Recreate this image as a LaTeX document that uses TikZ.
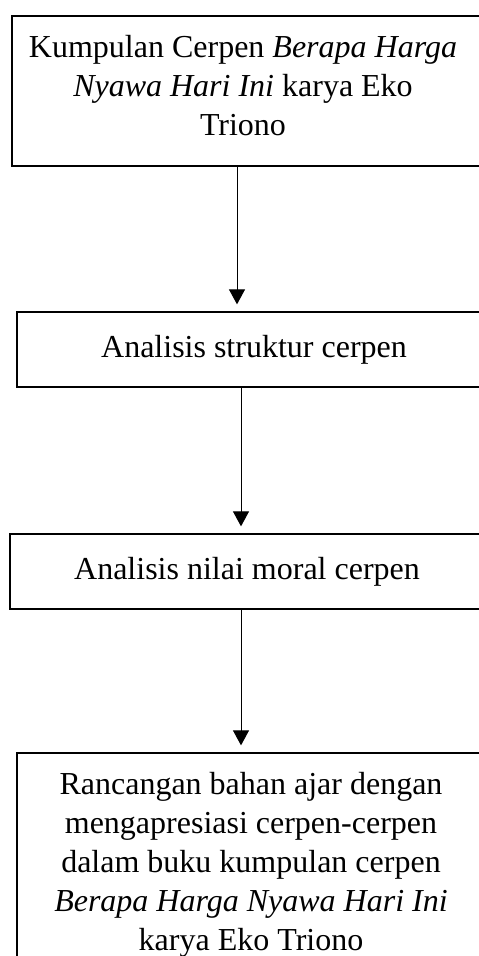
\documentclass[tikz,border=0pt]{standalone}
\usepackage{fontspec}
\setmainfont{Liberation Serif}
\usetikzlibrary{arrows.meta}
\tikzstyle{stepbox} = [rectangle, draw, line width=1.3pt, fill=white, inner sep=0pt]
\tikzstyle{steptext} = [align=center, inner sep=0pt, font=\fontsize{32}{39}\selectfont]

\begin{document}
\begin{tikzpicture}[->,>={Triangle[width=16pt,length=15pt]},shorten >=7pt,line width=1pt,x=1pt,y=-1pt]
  \useasboundingbox (0,0) rectangle (479,956);
  \clip (0,0) rectangle (479,956);
  \node[stepbox, minimum width=528pt, minimum height=150pt,
    label={[steptext, xshift=-33pt]center:{Kumpulan Cerpen \textit{Berapa Harga}\\ \textit{Nyawa Hari Ini} karya Eko\\ Triono\strut}}] (kumpulan) at (276,91) {};
  \node[stepbox, minimum width=523pt, minimum height=75pt,
    label={[steptext, xshift=-24.5pt]center:{Analisis struktur cerpen}}] (struktur) at (278.5,349.5) {};
  \node[stepbox, minimum width=530pt, minimum height=75pt,
    label={[steptext, xshift=-28pt]center:{Analisis nilai moral cerpen}}] (moral) at (275,571.5) {};
  \node[stepbox, minimum width=523pt, minimum height=224pt,
    label={[steptext, xshift=-27.5pt]center:{Rancangan bahan ajar dengan\\ mengapresiasi cerpen-cerpen\\ dalam buku kumpulan cerpen\\ \textit{Berapa Harga Nyawa Hari Ini}\\ karya Eko Triono}}] (rancangan) at (278.5,865) {};
  \coordinate (colA) at (237,0);
  \coordinate (colB) at (241,0);

  \path (kumpulan.south -| colA) edge (struktur.north -| colA);
  \path (struktur.south -| colB) edge (moral.north -| colB);
  \path (moral.south -| colB) edge (rancangan.north -| colB);
\end{tikzpicture}
\end{document}
